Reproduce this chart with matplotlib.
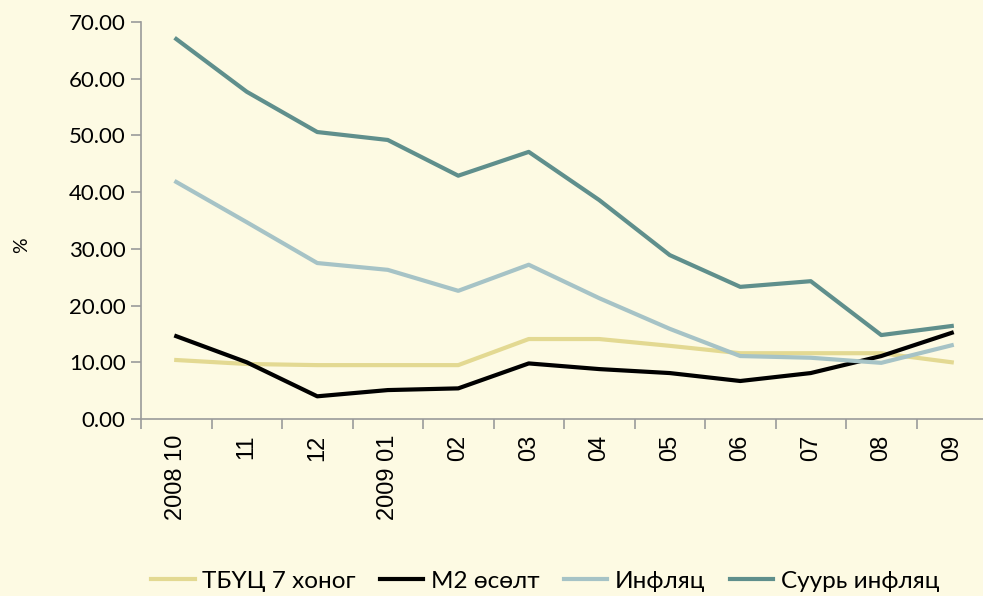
import matplotlib.pyplot as plt
import numpy as np

# data
months = ['2008 10', '11', '12', '2009 01', '02', '03', '04', '05', '06', '07', '08', '09']
tbuts = [10.4, 9.7, 9.5, 9.5, 9.5, 14.1, 14.1, 12.9, 11.6, 11.6, 11.6, 10.0]
m2 = [14.6, 10.0, 4.0, 5.1, 5.4, 9.8, 8.8, 8.1, 6.7, 8.1, 11.1, 15.2]
infl = [41.8, 34.7, 27.5, 26.3, 22.6, 27.2, 21.3, 15.9, 11.1, 10.8, 9.9, 13.0]
core = [67.0, 57.7, 50.6, 49.2, 42.9, 47.1, 38.6, 28.9, 23.3, 24.3, 14.8, 16.4]

bg = '#FDFAE3'
plt.rcParams['font.family'] = ['Lato', 'DejaVu Sans']

fig = plt.figure(figsize=(9.83, 5.96), dpi=100, facecolor=bg)
ax = fig.add_axes([141/983, 1-419/596, 846/983, 397/596], facecolor=bg)

x = np.arange(len(months))
ax.plot(x, tbuts, color='#E3D992', lw=3, label='ТБҮЦ 7 хоног')
ax.plot(x, m2, color='#000000', lw=3, label='М2 өсөлт')
ax.plot(x, infl, color='#A6C3C6', lw=3, label='Инфляц')
ax.plot(x, core, color='#5F8F8C', lw=3, label='Суурь инфляц')

ax.set_xlim(-0.5, len(months) - 0.5)
ax.set_ylim(0, 70)
ax.set_yticks(np.arange(0, 71, 10))
ax.set_yticklabels(['%.2f' % v for v in np.arange(0, 71, 10)], fontsize=16)
ax.set_xticks(x)
ax.set_xticklabels(months, rotation=90, fontsize=17, family='Liberation Sans', va='top')
ax.set_xticks(np.arange(-0.5, len(months)), minor=True)
ax.tick_params(axis='x', which='major', length=0, pad=11)
ax.tick_params(axis='x', which='minor', length=7, color='#9A9A9A', width=1.2)
ax.tick_params(axis='y', length=7, color='#9A9A9A', width=1.2, pad=4)
for s in ['top', 'right']:
    ax.spines[s].set_visible(False)
for s in ['left', 'bottom']:
    ax.spines[s].set_color('#9A9A9A')
    ax.spines[s].set_linewidth(1.2)

fig.text(22/983, 1-245/596, '%', rotation=90, fontsize=14, ha='center', va='center')

fig.legend(loc='center', bbox_to_anchor=(545/983, 1-581/596), ncol=4, frameon=False,
           fontsize=17.5, handlelength=1.8, handletextpad=0.3, columnspacing=1.0)

fig.savefig('out.png', dpi=100, facecolor=bg)
